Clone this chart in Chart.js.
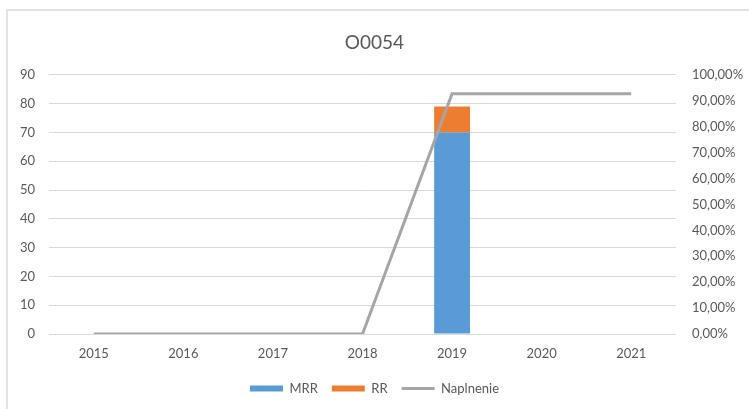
<!DOCTYPE html>
<html>
<head>
<meta charset="utf-8">
<script src="https://cdn.jsdelivr.net/npm/chart.js@4/dist/chart.umd.min.js"></script>
<style>
  html, body { margin: 0; padding: 0; background: #fff; }
  #wrap { position: relative; width: 749px; height: 409px; overflow: hidden; }
  #frame { position: absolute; left: 6px; top: 9px; width: 780px; height: 440px; border: 2px solid #e3e3e3; box-sizing: border-box; }
  #box { position: absolute; left: 0; top: 0; width: 749px; height: 409px; }
</style>
</head>
<body>
<div id="wrap">
  <div id="frame"></div>
  <div id="box"><canvas id="myChart"></canvas></div>
</div>
<script>
const years = ["2015", "2016", "2017", "2018", "2019", "2020", "2021"]
const mrr = [null, null, null, null, 70, null, null]
const rr = [null, null, null, null, 9, null, null]
const naplnenie = [0, 0, 0, 0, 0.927, 0.927, 0.927]

const textColor = "#595959"
const font = { family: "Lato, 'Open Sans', sans-serif", size: 13 }

function pct(v) {
  return (v * 100).toFixed(2).replace(".", ",") + "%"
}

const ctx = document.getElementById("myChart")

new Chart(ctx, {
  data: {
    labels: years,
    datasets: [{
      type: "bar",
      label: "MRR",
      data: mrr,
      backgroundColor: "#5b9bd5",
      stack: "s",
      order: 1
    }, {
      type: "bar",
      label: "RR",
      data: rr,
      backgroundColor: "#ed7d31",
      stack: "s",
      order: 1
    }, {
      type: "line",
      label: "Naplnenie",
      data: naplnenie,
      yAxisID: "y1",
      borderColor: "#a5a5a5",
      backgroundColor: "#a5a5a5",
      borderWidth: 3,
      pointRadius: 0,
      tension: 0,
      order: 0
    }]
  },
  options: {
    responsive: true,
    maintainAspectRatio: false,
    animation: false,
    datasets: {
      bar: { barPercentage: 0.4, categoryPercentage: 1 }
    },
    layout: { padding: { left: 0, right: 0, top: 0, bottom: 4 } },
    plugins: {
      tooltip: { enabled: false },
      title: {
        display: true,
        text: "O0054",
        color: textColor,
        font: { family: font.family, size: 19, weight: "normal" },
        padding: { top: 31, bottom: 21 }
      },
      legend: {
        position: "bottom",
        labels: {
          color: textColor,
          font: font,
          usePointStyle: true,
          pointStyleWidth: 33,
          boxHeight: 6,
          padding: 14,
          sort: (a, b) => a.datasetIndex - b.datasetIndex,
          generateLabels(chart) {
            const items = Chart.defaults.plugins.legend.labels.generateLabels(chart)
            items.forEach((it) => {
              const ds = chart.data.datasets[it.datasetIndex]
              if (ds.type === "line") {
                it.pointStyle = "line"
                it.strokeStyle = ds.borderColor
                it.lineWidth = 3
              } else {
                it.pointStyle = "rect"
                it.lineWidth = 0
              }
            })
            return items
          }
        }
      }
    },
    scales: {
      x: {
        stacked: true,
        grid: { display: false, drawTicks: false },
        border: { display: false },
        ticks: { color: textColor, font: font, padding: 12 },
        afterFit(scale) { scale.height = 34 }
      },
      y: {
        stacked: true,
        min: 0,
        max: 90,
        position: "left",
        grid: { color: "#d9d9d9", lineWidth: 1, drawTicks: false },
        border: { display: false },
        ticks: { stepSize: 10, color: textColor, font: font, padding: 14 },
        afterFit(scale) { scale.width = 49 }
      },
      y1: {
        min: 0,
        max: 1,
        position: "right",
        grid: { display: false, drawTicks: false },
        border: { display: false },
        ticks: { stepSize: 0.1, color: textColor, font: font, padding: 16, callback: (v) => pct(v) },
        afterFit(scale) { scale.width = 73 }
      }
    }
  }
})
</script>
</body>
</html>
